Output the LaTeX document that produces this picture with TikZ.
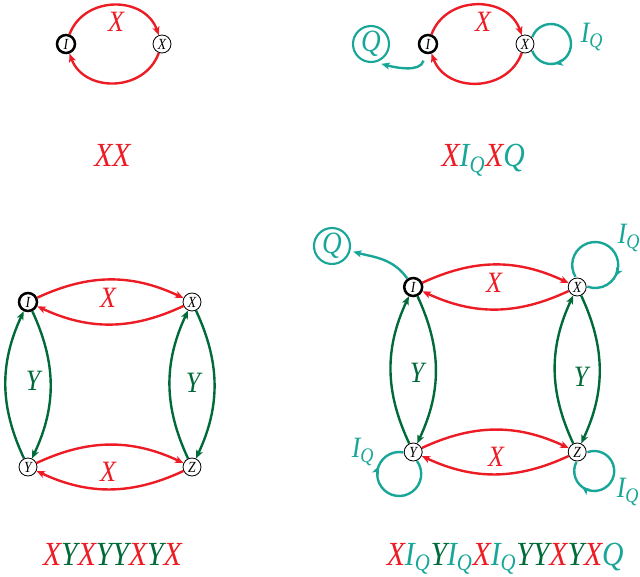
\documentclass[tikz,border=0pt]{standalone}
\usepackage{fontspec}
\newfontfamily\figfont[FakeStretch=0.88]{Liberation Serif}
\usetikzlibrary{arrows.meta, decorations.markings, calc}
\definecolor{xred}{RGB}{237,28,36}
\definecolor{ygreen}{RGB}{0,106,56}
\definecolor{qteal}{RGB}{24,166,152}
\newcommand{\cX}{\textcolor{xred}{X}}
\newcommand{\cY}{\textcolor{ygreen}{Y}}
\newcommand{\cQ}{\textcolor{qteal}{Q}}
\newcommand{\cIQ}{\textcolor{qteal}{I\textsubscript{Q}}}

\begin{document}
\begin{tikzpicture}[
  state/.style={circle, draw, line width=0.6pt, minimum size=0.45cm, inner sep=0pt, font=\figfont\itshape\fontsize{11}{12}\selectfont},
  initstate/.style={state, line width=1.8pt},
  qstate/.style={circle, draw=qteal, text=qteal, line width=1.5pt, minimum size=0.9cm, inner sep=0pt, font=\figfont\itshape\fontsize{22}{24}\selectfont},
  arrowtip/.style={-{Stealth[length=6pt,width=5pt,inset=1.5pt]}},
  xedge/.style={xred, line width=1.7pt, arrowtip},
  yedge/.style={ygreen, line width=1.7pt, arrowtip},
  qedge/.style={qteal, line width=1.7pt, arrowtip},
  qloop/.style={qteal, line width=1.7pt, postaction={decorate},
    decoration={markings, mark=at position 0.75 with {\arrow{Stealth[length=6pt,width=5pt,inset=1.5pt]}}}},
  lbl/.style={inner sep=0pt, font=\figfont\itshape\fontsize{21}{24}\selectfont},
  word/.style={inner sep=0pt, anchor=base, font=\figfont\itshape\fontsize{24}{28}\selectfont}
]
  \useasboundingbox (0,0) rectangle (16,14.4);

  % Top left: one letter X
  \node[initstate] (I1) at (1.65,13.3) {I};
  \node[state] (X1) at (4.05,13.3) {X};
  \draw[xedge] (I1) to[bend left=70, looseness=1.2] (X1);
  \draw[xedge] (X1) to[bend left=70, looseness=1.2] (I1);
  \node[lbl, xred] (lx1) at (2.9,13.85) {X};
  \node[word] (w1) at (2.81,10.225) {\cX\cX};

  % Top right: X with quit state
  \node[qstate] (Q2) at (9.275,13.3) {Q};
  \node[initstate] (I2) at (10.7,13.3) {I};
  \node[state] (X2) at (13.125,13.3) {X};
  \draw[xedge] (I2) to[bend left=70, looseness=1.2] (X2);
  \draw[xedge] (X2) to[bend left=70, looseness=1.2] (I2);
  \draw[qedge, shorten <=5pt, shorten >=4pt] (I2) to[out=-105, in=-15] (Q2.-75);
  \draw[qloop] ($(X2)+(0.65,0)+(160:0.5)$) arc[start angle=160, end angle=-160, radius=0.5];
  \node[lbl, xred] (lx2) at (12.075,13.85) {X};
  \node[lbl, qteal] (lq2) at (14.8,13.475) {I\textsubscript{Q}};
  \node[word] (w2) at (12.08,10.225) {\cX\cIQ\cX\cQ};

  % Bottom: four states
  \node[initstate] (I3) at (0.7,6.85) {I};
  \node[state] (X3) at (4.8,6.85) {X};
  \node[state] (Y3) at (0.7,2.725) {Y};
  \node[state] (Z3) at (4.8,2.725) {Z};

  \node[qstate] (Q4) at (8.3,8.25) {Q};
  \node[initstate] (I4) at (10.33,7.225) {I};
  \node[state] (X4) at (14.43,7.225) {X};
  \node[state] (Y4) at (10.33,3.1) {Y};
  \node[state] (Z4) at (14.43,3.1) {Z};

  \foreach \p in {3,4} {
    \foreach \a/\b in {I/X, X/I, Y/Z, Z/Y}
      \draw[xedge] (\a\p) to[bend left=25] (\b\p);
    \foreach \a/\b in {I/Y, Y/I, X/Z, Z/X}
      \draw[yedge] (\a\p) to[bend left=25] (\b\p);
  }

  \node[lbl, xred] (lx3a) at (2.7,6.95) {X};
  \node[lbl, xred] (lx3b) at (2.7,2.6) {X};
  \node[lbl, ygreen] (ly3a) at (0.825,4.875) {Y};
  \node[lbl, ygreen] (ly3b) at (4.825,4.825) {Y};
  \node[word] (w3) at (2.81,0.275) {\cX\cY\cX\cY\cY\cX\cY\cX};

  % quit edge and self loops
  \draw[qedge, shorten >=2pt] (I4) to[out=125, in=-15] (Q4);
  \draw[qloop] ($(X4)+(0.45,0.55)+(211:0.575)$) arc[start angle=211, end angle=-110, radius=0.575];
  \draw[qloop] ($(Y4)+(-0.35,-0.55)+(36:0.55)$) arc[start angle=36, end angle=-281, radius=0.55];
  \draw[qloop] ($(Z4)+(0.425,-0.475)+(110:0.5)$) arc[start angle=110, end angle=-207, radius=0.5];

  \node[lbl, xred] (lx4a) at (12.35,7.33) {X};
  \node[lbl, xred] (lx4b) at (12.4,2.97) {X};
  \node[lbl, ygreen] (ly4a) at (10.425,5.075) {Y};
  \node[lbl, ygreen] (ly4b) at (14.525,4.975) {Y};
  \node[lbl, qteal] (lq4a) at (15.725,8.45) {I\textsubscript{Q}};
  \node[lbl, qteal] (lq4b) at (9.075,3.1) {I\textsubscript{Q}};
  \node[lbl, qteal] (lq4c) at (15.7,2.1) {I\textsubscript{Q}};
  \node[word] (w4) at (12.63,0.275) {\cX\cIQ\cY\cIQ\cX\cIQ\cY\cY\cX\cY\cX\cQ};
\end{tikzpicture}
\end{document}
